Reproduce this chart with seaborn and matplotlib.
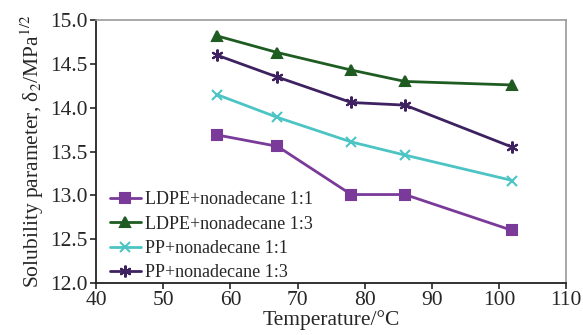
import pandas as pd
import matplotlib
matplotlib.use('Agg')
import matplotlib.pyplot as plt
import seaborn as sns

sns.set_style('ticks')
plt.rcParams['font.family'] = ['Liberation Serif', 'DejaVu Serif']
plt.rcParams['mathtext.fontset'] = 'stix'

# ── Data ──────────────────────────────────────────────────
temps      = [58, 67, 78, 86, 102]
ldpe_1_1   = [13.69, 13.56, 13.01, 13.01, 12.60]
ldpe_1_3   = [14.82, 14.63, 14.43, 14.30, 14.26]
pp_1_1     = [14.15, 13.89, 13.61, 13.46, 13.17]
pp_1_3     = [14.60, 14.35, 14.06, 14.03, 13.55]
labels     = ['LDPE+nonadecane 1:1', 'LDPE+nonadecane 1:3',
              'PP+nonadecane 1:1', 'PP+nonadecane 1:3']

series  = [ldpe_1_1, ldpe_1_3, pp_1_1, pp_1_3]
colors  = ['#7A3A9A', '#1E5C22', '#4CC4C4', '#3E2160']
markers = ['s', '^', 'x', (6, 2, 0)]   # last one: asterisk
msizes  = [7.5, 7.5, 7, 8.5]

fig = plt.figure(figsize=(5.83, 3.35), dpi=100)
ax = fig.add_axes([0.165, 0.155, 0.806, 0.785])

for vals, lab, c, m, ms in zip(series, labels, colors, markers, msizes):
    d = pd.DataFrame({'T': temps, 'delta': vals})
    sns.lineplot(data=d, x='T', y='delta', color=c, marker=m, markersize=ms,
                 markeredgecolor=c, markeredgewidth=1.5, linewidth=2,
                 label=lab, ax=ax)

ax.set_xlim(40, 110)
ax.set_ylim(12.0, 15.0)
ax.set_xticks(range(40, 111, 10))
ax.set_yticks([12.0, 12.5, 13.0, 13.5, 14.0, 14.5, 15.0])
ax.set_yticklabels([f'{v:.1f}' for v in ax.get_yticks()])
ax.tick_params(labelsize=15.5, direction='out', length=4, width=1.2, pad=2)

ax.set_xlabel('Temperature/°C', fontsize=15.5, labelpad=0)
ax.set_ylabel('Solubility parameter, δ$_2$/MPa$^{1/2}$', fontsize=15.5, labelpad=3)

for s in ['top', 'right']:
    ax.spines[s].set_color('#999999')
    ax.spines[s].set_linewidth(1.2)
for s in ['left', 'bottom']:
    ax.spines[s].set_color('#222222')
    ax.spines[s].set_linewidth(1.3)

ax.legend(loc='lower left', frameon=False, fontsize=13,
          handlelength=1.7, handletextpad=0.25, labelspacing=0.4,
          borderaxespad=0.1, bbox_to_anchor=(0.01, -0.027))

fig.savefig('out.png', dpi=100)
